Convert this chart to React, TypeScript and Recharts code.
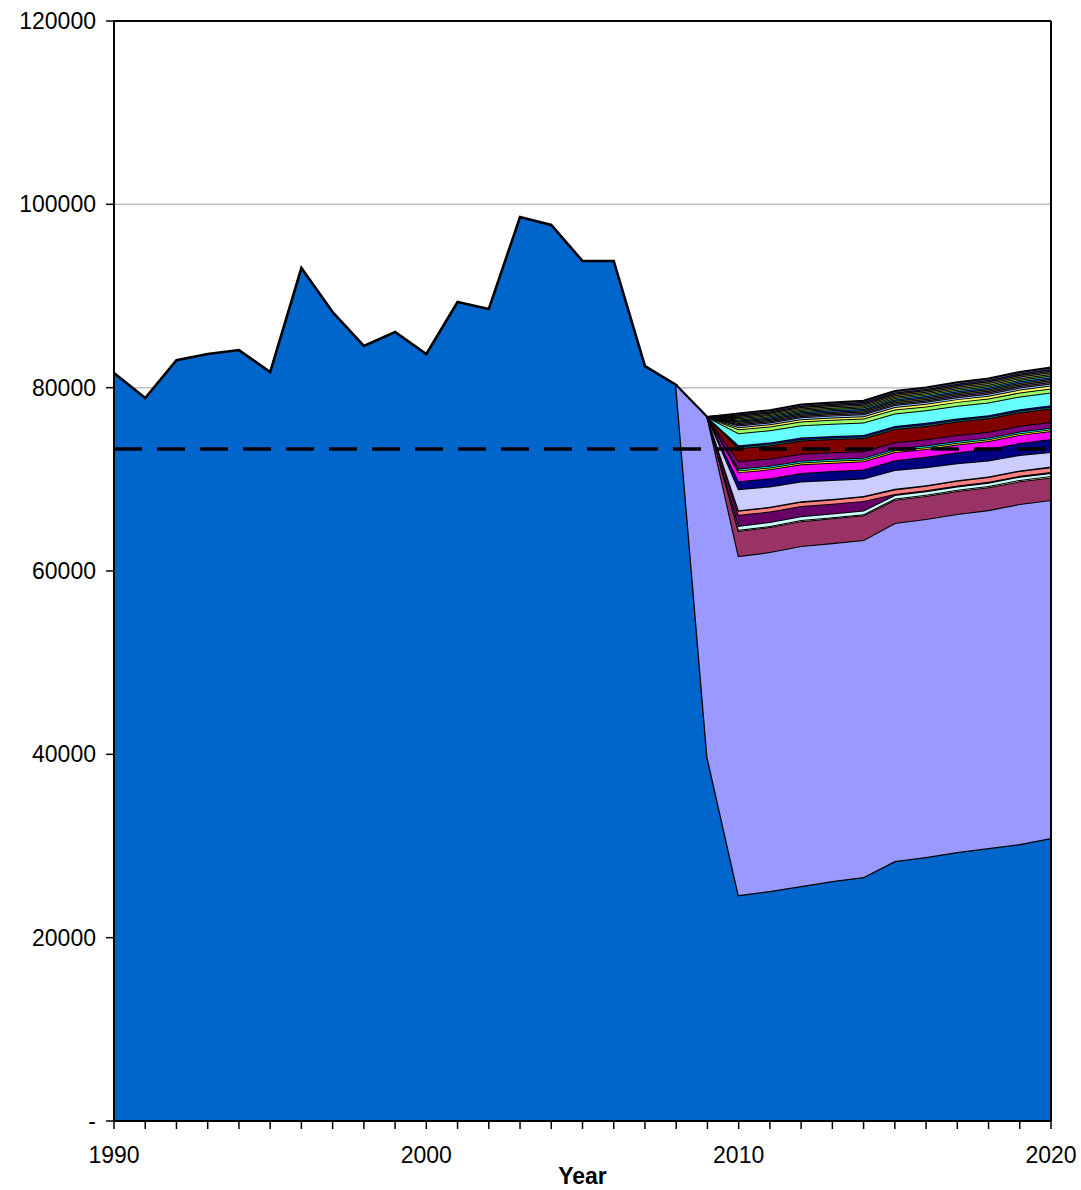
import { AreaChart, Area, XAxis, YAxis, CartesianGrid, ReferenceLine } from "recharts"

// take the default body margin off so the chart can use the whole window
if (typeof document !== "undefined") document.body.style.margin = "0"

const years = [
  1990, 1991, 1992, 1993, 1994, 1995, 1996, 1997, 1998, 1999, 2000, 2001, 2002, 2003, 2004, 2005,
  2006, 2007, 2008, 2009, 2010, 2011, 2012, 2013, 2014, 2015, 2016, 2017, 2018, 2019, 2020,
]

// main series, whole period
const baseline = [
  81600, 78870, 83000, 83670, 84100, 81700, 93050, 88250, 84550, 86070, 83670, 89350, 88580, 98620, 97750, 93820,
  93820, 82360, 80290, 39700, 24650, 25090, 25640, 26180, 26620, 28360, 28800, 29350, 29780, 30220, 30870,
]

// starts at 2008 (0), 2009, then 2010..2020
const lavender2008 = 0
const lavender2009 = 37100
const lavender = [36990, 36980, 37090, 36870, 36760, 36880, 36870, 36870, 36870, 37090, 36880]

// the rest start at 0 in 2009, values below are 2010..2020
const maroon = [2730, 2720, 2710, 2700, 2700, 2520, 2500, 2500, 2480, 2470, 2450]
const paleYellow = [120, 120, 120, 120, 120, 150, 150, 150, 150, 160, 160]
const paleCyan = [440, 430, 420, 410, 400, 380, 370, 360, 350, 340, 330]
const plum = [1200, 1150, 1100, 1050, 1050, 120, 110, 100, 100, 100, 100]
const salmon = [440, 450, 460, 470, 480, 490, 500, 510, 520, 530, 540]
const steel = [60, 60, 60, 60, 60, 60, 60, 60, 60, 60, 60]
const lilac = [2290, 2230, 2160, 2080, 1900, 2050, 1950, 1850, 1750, 1680, 1600]
const navy = [870, 900, 940, 960, 980, 1080, 1150, 1200, 1260, 1320, 1400]
const magenta = [980, 960, 940, 920, 900, 880, 860, 860, 870, 880, 880]
const yellow = [200, 200, 195, 195, 190, 190, 185, 185, 180, 180, 180]
const aqua = [200, 200, 195, 195, 190, 190, 185, 185, 180, 180, 180]
const purple = [800, 780, 760, 740, 720, 700, 680, 660, 650, 630, 620]
const darkRed = [1420, 1430, 1440, 1440, 1450, 1450, 1460, 1470, 1470, 1480, 1490]
const teal = [180, 180, 180, 180, 180, 180, 180, 180, 180, 180, 180]
const royal = [150, 150, 150, 150, 150, 150, 150, 150, 150, 150, 150]
const cyan = [1310, 1320, 1330, 1340, 1350, 1360, 1370, 1380, 1380, 1390, 1400]
const green = [430, 425, 430, 435, 430, 430, 425, 430, 435, 430, 430]
const lemon = [220, 230, 240, 250, 260, 275, 290, 300, 310, 320, 330]
const skyBlue = [200, 200, 205, 205, 205, 210, 210, 215, 215, 220, 220]
const pink = [130, 135, 140, 145, 150, 150, 155, 160, 165, 170, 175]
const orchid = [135, 135, 140, 145, 145, 155, 160, 160, 165, 170, 175]
const peach = [130, 130, 140, 140, 150, 155, 155, 160, 165, 170, 170]
const cobalt = [130, 135, 140, 145, 145, 150, 155, 160, 165, 170, 175]
const turquoise = [130, 135, 135, 145, 150, 155, 160, 165, 165, 170, 175]
const olive = [135, 135, 140, 145, 150, 150, 155, 160, 165, 170, 180]
const gold = [130, 130, 140, 145, 150, 155, 155, 160, 165, 175, 175]
const orange = [130, 135, 140, 140, 145, 150, 160, 165, 170, 170, 175]
const rust = [130, 135, 140, 145, 150, 150, 155, 160, 170, 170, 175]
const slate = [130, 130, 135, 145, 150, 155, 160, 165, 165, 170, 175]

const yTicks = [0, 20000, 40000, 60000, 80000, 100000, 120000]
const dashedLevel = 73300

const stacked = [
  { key: "maroon", values: maroon, color: "#993366" },
  { key: "paleYellow", values: paleYellow, color: "#FFFFCC" },
  { key: "paleCyan", values: paleCyan, color: "#CCFFFF" },
  { key: "plum", values: plum, color: "#660066" },
  { key: "salmon", values: salmon, color: "#FF8080" },
  { key: "steel", values: steel, color: "#0066CC" },
  { key: "lilac", values: lilac, color: "#CCCCFF" },
  { key: "navy", values: navy, color: "#000080" },
  { key: "magenta", values: magenta, color: "#FF00FF" },
  { key: "yellow", values: yellow, color: "#FFFF00" },
  { key: "aqua", values: aqua, color: "#00FFFF" },
  { key: "purple", values: purple, color: "#800080" },
  { key: "darkRed", values: darkRed, color: "#800000" },
  { key: "teal", values: teal, color: "#008080" },
  { key: "royal", values: royal, color: "#0000FF" },
  { key: "cyan", values: cyan, color: "#66FFFF" },
  { key: "green", values: green, color: "#99FF66" },
  { key: "lemon", values: lemon, color: "#FFFF66" },
  { key: "skyBlue", values: skyBlue, color: "#99CCFF" },
  { key: "pink", values: pink, color: "#996699" },
  { key: "orchid", values: orchid, color: "#666699" },
  { key: "peach", values: peach, color: "#808000" },
  { key: "cobalt", values: cobalt, color: "#3366FF" },
  { key: "turquoise", values: turquoise, color: "#33CCCC" },
  { key: "olive", values: olive, color: "#99CC00" },
  { key: "gold", values: gold, color: "#969696" },
  { key: "orange", values: orange, color: "#808000" },
  { key: "rust", values: rust, color: "#333399" },
  { key: "slate", values: slate, color: "#666699" },
]

const data = years.map((year, i) => {
  const row: Record<string, number | null> = { year, baseline: baseline[i] }
  const j = year - 2010
  row.lavender = year < 2008 ? null : year === 2008 ? lavender2008 : year === 2009 ? lavender2009 : lavender[j]
  stacked.forEach((s) => {
    row[s.key] = year < 2009 ? null : year === 2009 ? 0 : s.values[j]
  })
  return row
})

const font = "'Liberation Sans', Arial, sans-serif"

function YearTick(props: any) {
  const { x, y, payload } = props
  if (payload.value % 10 !== 0) return null
  return (
    <text x={x} y={y} dy="0.71em" textAnchor="middle" fill="#000" fontSize={23} fontFamily={font}>
      {payload.value}
    </text>
  )
}

export default function App() {
  return (
    <div style={{ width: 1081, height: 1190, fontFamily: font }}>
      <AreaChart width={1081} height={1190} data={data} margin={{ top: 21, right: 30, left: 8, bottom: 0 }}>
        <CartesianGrid horizontal vertical={false} stroke="#C0C0C0" strokeWidth={1.5} />
        <XAxis
          dataKey="year"
          type="number"
          domain={[1990, 2020]}
          ticks={years}
          interval={0}
          height={69}
          tick={<YearTick />}
          tickSize={8}
          tickMargin={18}
          axisLine={{ stroke: "#000", strokeWidth: 2 }}
          tickLine={{ stroke: "#000", strokeWidth: 1.5 }}
          label={{ value: "Year", position: "insideBottom", offset: 6, fill: "#000", fontSize: 23, fontWeight: "bold" }}
        />
        <YAxis
          domain={[0, 120000]}
          ticks={yTicks}
          width={106}
          tickSize={8}
          tickMargin={10}
          tickFormatter={(v: number) => (v === 0 ? "-" : String(v))}
          tick={{ fill: "#000", fontSize: 23 }}
          axisLine={{ stroke: "#000", strokeWidth: 2 }}
          tickLine={{ stroke: "#000", strokeWidth: 1.5 }}
        />
        <Area
          type="linear"
          dataKey="baseline"
          stackId="a"
          fill="#0066CC"
          fillOpacity={1}
          stroke="#000"
          strokeWidth={2.6}
          dot={false}
          activeDot={false}
          isAnimationActive={false}
        />
        <Area
          type="linear"
          dataKey="lavender"
          stackId="a"
          fill="#9999FF"
          fillOpacity={1}
          stroke="#000"
          strokeWidth={2.2}
          dot={false}
          activeDot={false}
          isAnimationActive={false}
        />
        {stacked.map((s) => (
          <Area
            key={s.key}
            type="linear"
            dataKey={s.key}
            stackId="a"
            fill={s.color}
            fillOpacity={1}
            stroke="#000"
            strokeWidth={2}
            dot={false}
            activeDot={false}
            isAnimationActive={false}
          />
        ))}
        <ReferenceLine y={120000} stroke="#000" strokeWidth={2} />
        <ReferenceLine x={2020} stroke="#000" strokeWidth={2} />
        <ReferenceLine y={dashedLevel} stroke="#000" strokeWidth={3.5} strokeDasharray="28 15" />
      </AreaChart>
    </div>
  )
}
